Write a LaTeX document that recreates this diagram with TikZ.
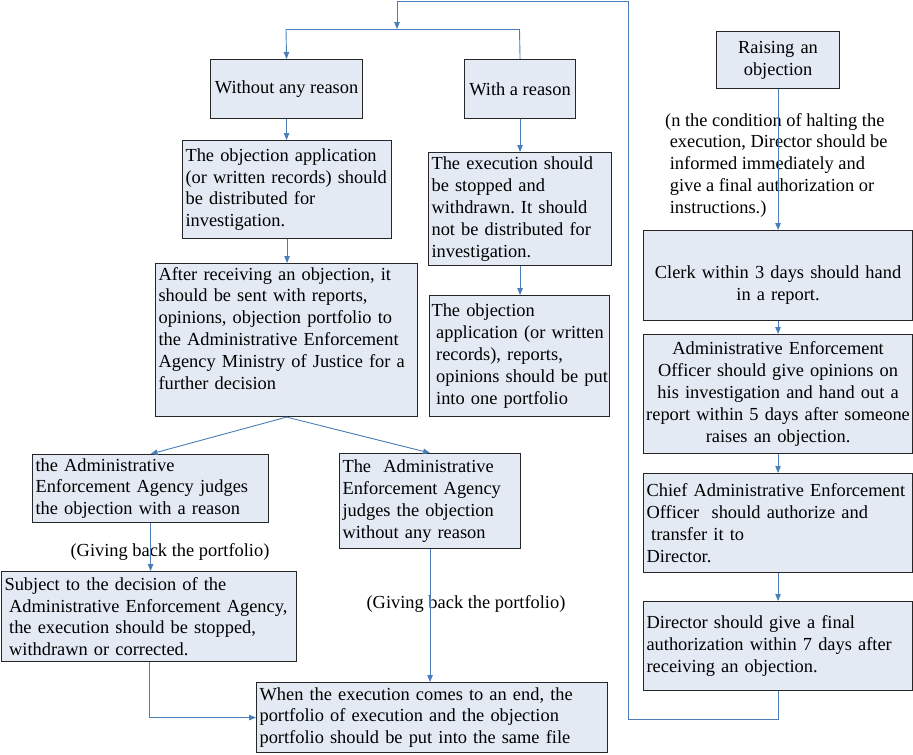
\documentclass[tikz,border=0pt]{standalone}
\usepackage{fontspec}
\setmainfont{Liberation Serif}
\usetikzlibrary{arrows.meta}
\definecolor{boxfill}{RGB}{228,234,244}
\definecolor{boxline}{RGB}{38,38,38}
\definecolor{conncol}{RGB}{74,126,187}
\newcommand\fsz{\fontsize{18.4pt}{21.8pt}\selectfont\frenchspacing}
\newcommand\lsp{\hspace*{0.25em}}
\begin{document}
\begin{tikzpicture}[x=1pt,y=-1pt,
  box/.style={draw=boxline, fill=boxfill, line width=1.1pt, inner xsep=3pt, inner ysep=0pt, font=\fsz, anchor=north west},
  conn/.style={draw=conncol, line width=0.9pt},
  arr/.style={conn, -{Triangle[length=7pt,width=5.5pt]}},
  lbl/.style={font=\fsz, inner sep=0pt}]
\useasboundingbox (0,0) rectangle (913,755);

% left / middle column
\node[box, minimum width=152pt, minimum height=59pt] (b1) at (210,59) {Without any reason};
\node[box, minimum width=111pt, minimum height=59pt] (b2) at (464,59) {With a reason};
\node[box, minimum width=209pt, minimum height=98pt, text width=203pt, align=left] (b3) at (182,140)
  {The objection application\\(or written records) should\\be distributed for\\investigation.};
\node[box, minimum width=183pt, minimum height=113pt, text width=177pt, align=left] (b4) at (428,152)
  {The execution should\\be stopped and\\withdrawn. It should\\not be distributed for\\investigation.};
\node[box, minimum width=262pt, minimum height=153pt, text width=256pt, align=left, text depth=133pt] (b5) at (155,263)
  {After receiving an objection, it\\should be sent with reports,\\opinions, objection portfolio to\\the Administrative Enforcement\\Agency Ministry of Justice for a\\further decision};
\node[box, minimum width=180pt, minimum height=121pt, inner xsep=2pt, text width=176pt, align=left] (b6) at (429,295)
  {The objection\\\lsp application (or written\\\lsp records), reports,\\\mbox{\lsp opinions should be put}\\\lsp into one portfolio};
\node[box, minimum width=236pt, minimum height=68pt, text width=230pt, align=left] (b7) at (32,454)
  {the Administrative\\Enforcement Agency judges\\the objection with a reason};
\node[box, minimum width=181pt, minimum height=95pt, text width=175pt, align=left] (b8) at (339,453)
  {The\ \ Administrative\\Enforcement Agency\\judges the objection\\without any reason};
\node[box, minimum width=295pt, minimum height=90pt, text width=289pt, align=left] (b9) at (1,571)
  {Subject to the decision of the\\\lsp Administrative Enforcement Agency,\\\lsp the execution should be stopped,\\\lsp withdrawn or corrected.};
\node[box, minimum width=351pt, minimum height=70pt, text width=345pt, align=left] (b10) at (256,682)
  {When the execution comes to an end, the\\portfolio of execution and the objection\\portfolio should be put into the same file};

% right column
\node[box, minimum width=123pt, minimum height=57pt, text width=117pt, align=center] (r1) at (716,31)
  {Raising an\\objection};
\node[box, minimum width=269pt, minimum height=90pt, text width=263pt, align=center, text height=31.6pt] (r2) at (643,230)
  {Clerk within 3 days should hand\\in a report.};
\node[box, minimum width=269pt, minimum height=119pt, inner xsep=1pt, text width=267pt, align=center] (r3) at (643,334)
  {Administrative Enforcement\\Officer should give opinions on\\his investigation and hand out a\\\mbox{report within 5 days after someone}\\raises an objection.};
\node[box, minimum width=269pt, minimum height=99pt, text width=263pt, align=left] (r4) at (643,473)
  {Chief Administrative Enforcement\\Officer\ \ should authorize and\\\lsp transfer it to\\Director.};
\node[box, minimum width=269pt, minimum height=89pt, text width=263pt, align=left] (r5) at (643,601)
  {Director should give a final\\authorization within 7 days after\\receiving an objection.};

% labels
\node[lbl] (g1) at (170,552) {(Giving back the portfolio)};
\node[lbl] (g2) at (466,604) {(Giving back the portfolio)};
\node[lbl, anchor=north west, align=left] (note) at (665,113)
  {(n the condition of halting the\\\lsp execution, Director should be\\\lsp informed immediately and\\\lsp give a final authorization or\\\lsp instructions.)};

% connectors
\coordinate (j) at (397,29);
\coordinate (jl) at (286,29);
\coordinate (jr) at (519.5,29);
\coordinate (top) at (628,1);
\draw[arr] (r5.south) -- ++(0,28) -| (top) -| (j);
\draw[conn] (jl) -- (jr);
\draw[arr] (jl) -- (b1.north);
\draw[conn] (jr) -- (b2.north);
\draw[arr] (b1.south) -- (b1.south |- b3.north);
\draw[arr] (b2.south) -- (b2.south |- b4.north);
\draw[arr] (b3.south) -- (b3.south |- b5.north);
\draw[arr] (b4.south) -- (b4.south |- b6.north);
\draw[arr] (b5.south) -- (b7.north);
\draw[arr] (b5.south) -- (b8.north);
\draw[arr] (b7.south) -- (b7.south |- b9.north);
\draw[arr] (b8.south) -- (b8.south |- b10.north);
\draw[arr] (b9.south) |- (b10.west);
\draw[arr] (r1.south) -- (r2.north);
\draw[arr] (r2.south) -- (r3.north);
\draw[arr] (r3.south) -- (r4.north);
\draw[arr] (r4.south) -- (r5.north);
\end{tikzpicture}
\end{document}
